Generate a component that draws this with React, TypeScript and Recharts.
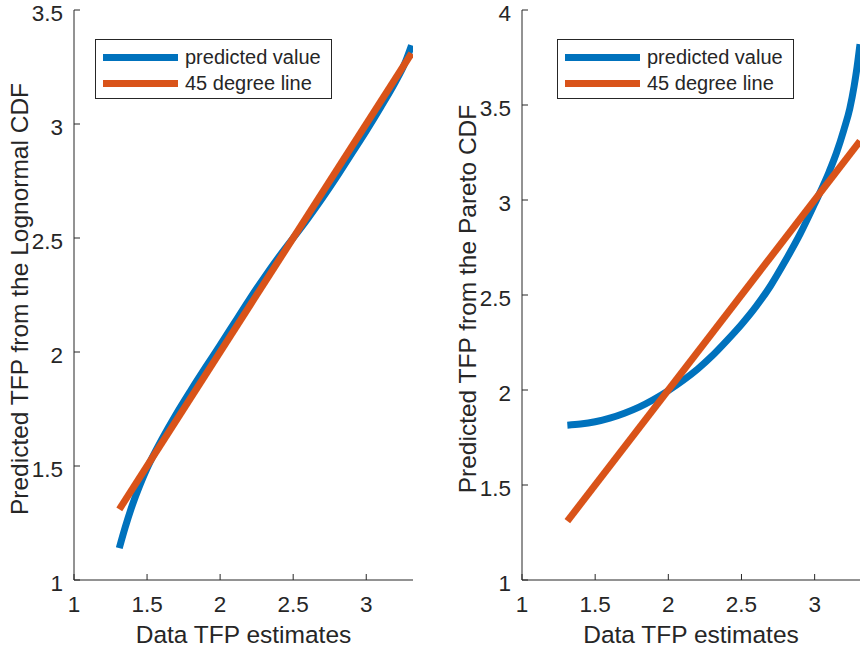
import React from 'react'
import { LineChart, Line, XAxis, YAxis, Legend, Label } from 'recharts'

// left panel: lognormal fit
const lognormX = [1.31, 1.35, 1.4, 1.45, 1.5, 1.6, 1.7, 1.8, 1.9, 2.0, 2.1, 2.2, 2.3, 2.4, 2.5, 2.6, 2.7, 2.8, 2.9, 3.0, 3.1, 3.2, 3.26, 3.31]
const lognormPred = [1.14, 1.23, 1.33, 1.415, 1.49, 1.615, 1.728, 1.832, 1.932, 2.03, 2.13, 2.23, 2.325, 2.415, 2.5, 2.585, 2.675, 2.77, 2.87, 2.97, 3.075, 3.185, 3.26, 3.345]

// right panel: pareto fit
const paretoX = [1.31, 1.4, 1.5, 1.6, 1.7, 1.8, 1.9, 2.0, 2.1, 2.2, 2.3, 2.4, 2.5, 2.6, 2.7, 2.8, 2.9, 3.0, 3.1, 3.15, 3.2, 3.24, 3.27, 3.29, 3.31]
const paretoPred = [1.815, 1.821, 1.833, 1.852, 1.878, 1.91, 1.95, 1.997, 2.05, 2.11, 2.18, 2.26, 2.345, 2.44, 2.55, 2.68, 2.82, 2.98, 3.15, 3.25, 3.37, 3.48, 3.6, 3.7, 3.82]

// 45 degree reference
const diagX = [1.31, 3.31]

const xTicks = [1, 1.5, 2, 2.5, 3]
const yTicksLeft = [1, 1.5, 2, 2.5, 3, 3.5]
const yTicksRight = [1, 1.5, 2, 2.5, 3, 3.5, 4]

const seriesNames = ['predicted value', '45 degree line']
const xLabel = 'Data TFP estimates'
const yLabelLeft = 'Predicted TFP from the Lognormal CDF'
const yLabelRight = 'Predicted TFP from the Pareto CDF'

const BLUE = '#0072BD'
const ORANGE = '#D95319'
const INK = '#262626'
const FONT = '"Liberation Sans", Arial, Helvetica, sans-serif'
const TICK_LEN = 6
const LINE_W = 7

const toPoints = (xs: number[], ys: number[]) => xs.map((x, i) => ({ x, y: ys[i] }))

const BottomTick = ({ x, y, payload }: any) => (
  <g>
    <line x1={x} y1={y} x2={x} y2={y - TICK_LEN} stroke={INK} strokeWidth={1} />
    <text x={x} y={y + 32} textAnchor="middle" fill={INK} fontSize={22.5} fontFamily={FONT}>
      {String(payload.value)}
    </text>
  </g>
)

const TopTick = ({ x, y }: any) => (
  <line x1={x} y1={y} x2={x} y2={y + TICK_LEN} stroke={INK} strokeWidth={1} />
)

const LeftTick = ({ x, y, payload }: any) => (
  <g>
    <line x1={x} y1={y} x2={x + TICK_LEN} y2={y} stroke={INK} strokeWidth={1} />
    <text x={x - 11} y={y + 3} textAnchor="end" dominantBaseline="central" fill={INK} fontSize={22.5} fontFamily={FONT}>
      {String(payload.value)}
    </text>
  </g>
)

const RightTick = ({ x, y }: any) => (
  <line x1={x} y1={y} x2={x - TICK_LEN} y2={y} stroke={INK} strokeWidth={1} />
)

const LegendBox = ({ payload }: any) => {
  const items = [...(payload || [])].sort(
    (a: any, b: any) => seriesNames.indexOf(a.value) - seriesNames.indexOf(b.value)
  )
  return (
    <div
      style={{
        boxSizing: 'border-box',
        width: '100%',
        height: '100%',
        border: `1px solid ${INK}`,
        background: '#fff',
        paddingTop: 4,
        paddingLeft: 7,
        fontFamily: FONT,
        fontSize: 20,
        color: INK,
      }}
    >
      {items.map((entry: any) => (
        <div key={entry.value} style={{ display: 'flex', alignItems: 'center', height: 26 }}>
          <div style={{ width: 75, height: LINE_W, background: entry.color, marginRight: 7 }} />
          <span style={{ whiteSpace: 'nowrap', lineHeight: '26px' }}>{entry.value}</span>
        </div>
      ))}
    </div>
  )
}

const renderXLabel = (props: any) => {
  const vb = props.viewBox
  return (
    <text x={vb.x + vb.width / 2} y={vb.y + 63} textAnchor="middle" fill={INK} fontSize={24.5} fontFamily={FONT}>
      {props.value}
    </text>
  )
}

const renderYLabel = (props: any) => {
  const vb = props.viewBox
  const cx = vb.x + 28
  const cy = vb.y + vb.height / 2 + 4
  return (
    <text x={cx} y={cy} transform={`rotate(-90 ${cx} ${cy})`} textAnchor="middle" fill={INK} fontSize={24.5} fontFamily={FONT}>
      {props.value}
    </text>
  )
}

interface PanelProps {
  width: number
  marginRight: number
  pred: { x: number; y: number }[]
  xMax: number
  yMax: number
  yTicks: number[]
  yLabel: string
  legendLeft: number
}

function Panel({ width, marginRight, pred, xMax, yMax, yTicks, yLabel, legendLeft }: PanelProps) {
  const diag = toPoints(diagX, diagX)
  return (
    <LineChart width={width} height={648} margin={{ top: 10, right: marginRight, bottom: 0, left: 0 }}>
      <XAxis
        xAxisId="b"
        type="number"
        dataKey="x"
        domain={[1, xMax]}
        ticks={xTicks}
        interval={0}
        allowDataOverflow
        height={68}
        tickSize={0}
        tickMargin={0}
        tickLine={false}
        axisLine={{ stroke: INK, strokeWidth: 1 }}
        tick={<BottomTick />}
      >
        <Label value={xLabel} content={renderXLabel} />
      </XAxis>
      <XAxis
        xAxisId="t"
        orientation="top"
        type="number"
        dataKey="x"
        domain={[1, xMax]}
        ticks={xTicks}
        interval={0}
        allowDataOverflow
        height={0}
        tickSize={0}
        tickMargin={0}
        tickLine={false}
        axisLine={{ stroke: INK, strokeWidth: 1 }}
        tick={<TopTick />}
      />
      <YAxis
        yAxisId="l"
        type="number"
        domain={[1, yMax]}
        ticks={yTicks}
        interval={0}
        allowDataOverflow
        width={74}
        tickSize={0}
        tickMargin={0}
        tickLine={false}
        axisLine={{ stroke: INK, strokeWidth: 1 }}
        tick={<LeftTick />}
      >
        <Label value={yLabel} content={renderYLabel} />
      </YAxis>
      <YAxis
        yAxisId="r"
        orientation="right"
        type="number"
        domain={[1, yMax]}
        ticks={yTicks}
        interval={0}
        allowDataOverflow
        width={0}
        tickSize={0}
        tickMargin={0}
        tickLine={false}
        axisLine={{ stroke: INK, strokeWidth: 1 }}
        tick={<RightTick />}
      />
      <Line
        xAxisId="b"
        yAxisId="l"
        data={pred}
        dataKey="y"
        name={seriesNames[0]}
        type="monotone"
        stroke={BLUE}
        strokeWidth={LINE_W}
        dot={false}
        activeDot={false}
        isAnimationActive={false}
      />
      <Line
        xAxisId="b"
        yAxisId="l"
        data={diag}
        dataKey="y"
        name={seriesNames[1]}
        type="linear"
        stroke={ORANGE}
        strokeWidth={LINE_W}
        dot={false}
        activeDot={false}
        isAnimationActive={false}
      />
      <Legend
        layout="horizontal"
        verticalAlign="middle"
        align="center"
        content={<LegendBox />}
        wrapperStyle={{ position: 'absolute', left: legendLeft, top: 39, width: 237, height: 60 }}
      />
    </LineChart>
  )
}

export default function App() {
  return (
    <div style={{ position: 'absolute', left: 0, top: 0, width: 862, height: 648, background: '#fff', overflow: 'hidden' }}>
      <div style={{ position: 'absolute', left: 0, top: 0 }}>
        <Panel
          width={430}
          marginRight={17}
          pred={toPoints(lognormX, lognormPred)}
          xMax={3.32}
          yMax={3.5}
          yTicks={yTicksLeft}
          yLabel={yLabelLeft}
          legendLeft={95}
        />
      </div>
      <div style={{ position: 'absolute', left: 448, top: 0 }}>
        <Panel
          width={414}
          marginRight={2}
          pred={toPoints(paretoX, paretoPred)}
          xMax={3.31}
          yMax={4}
          yTicks={yTicksRight}
          yLabel={yLabelRight}
          legendLeft={109}
        />
      </div>
    </div>
  )
}
